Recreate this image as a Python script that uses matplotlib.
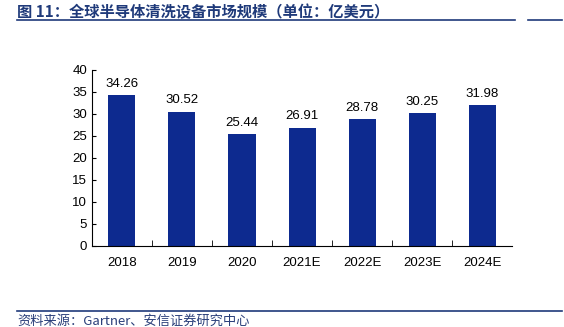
import matplotlib.pyplot as plt
from matplotlib.lines import Line2D

plt.rcParams['font.family'] = ['Liberation Sans', 'Noto Sans CJK SC', 'DejaVu Sans']

years = ['2018', '2019', '2020', '2021E', '2022E', '2023E', '2024E']
market_size = [34.26, 30.52, 25.44, 26.91, 28.78, 30.25, 31.98]

title = '图 11：全球半导体清洗设备市场规模（单位：亿美元）'
source = '资料来源：Gartner、安信证券研究中心'

bar_color = '#0D2A8F'
line_color = '#1F3A7A'

fig = plt.figure(figsize=(5.64, 3.27), dpi=100)
ax = fig.add_axes([0.163, 0.248, 0.745, 0.538])

x = list(range(len(years)))
ax.bar(x, market_size, width=0.45, color=bar_color)
for xi, v in zip(x, market_size):
    ax.text(xi, v + 1.2, f'{v:.2f}', ha='center', va='bottom', fontsize=9.5)

ax.set_xlim(-0.5, len(years) - 0.5)
ax.set_ylim(0, 40)
ax.set_yticks(range(0, 41, 5))
ax.set_xticks(x)
ax.set_xticklabels(years)
ax.set_xticks([i + 0.5 for i in x[:-1]], minor=True)
ax.tick_params(axis='x', which='major', length=0, pad=8, labelsize=9.5)
ax.tick_params(axis='x', which='minor', direction='in', length=4)
ax.tick_params(axis='y', direction='in', length=3, labelsize=9.5)
for s in ['top', 'right']:
    ax.spines[s].set_visible(False)

fig.text(0.03, 0.963, title, fontsize=11, fontweight='bold', color=line_color,
         va='center', family=['Noto Sans CJK SC', 'DejaVu Sans'])
fig.add_artist(Line2D([0.03, 0.913], [0.94, 0.94], color=line_color, lw=1.2))
fig.add_artist(Line2D([0.937, 0.997], [0.94, 0.94], color=line_color, lw=1.2))
fig.add_artist(Line2D([0.03, 0.997], [0.049, 0.049], color=line_color, lw=1.2))
fig.text(0.03, 0.017, source, fontsize=9.5, style='italic', color='#2A3F7A',
         va='center', family=['Noto Sans CJK SC', 'DejaVu Sans'])

fig.savefig('out.png', dpi=100)
